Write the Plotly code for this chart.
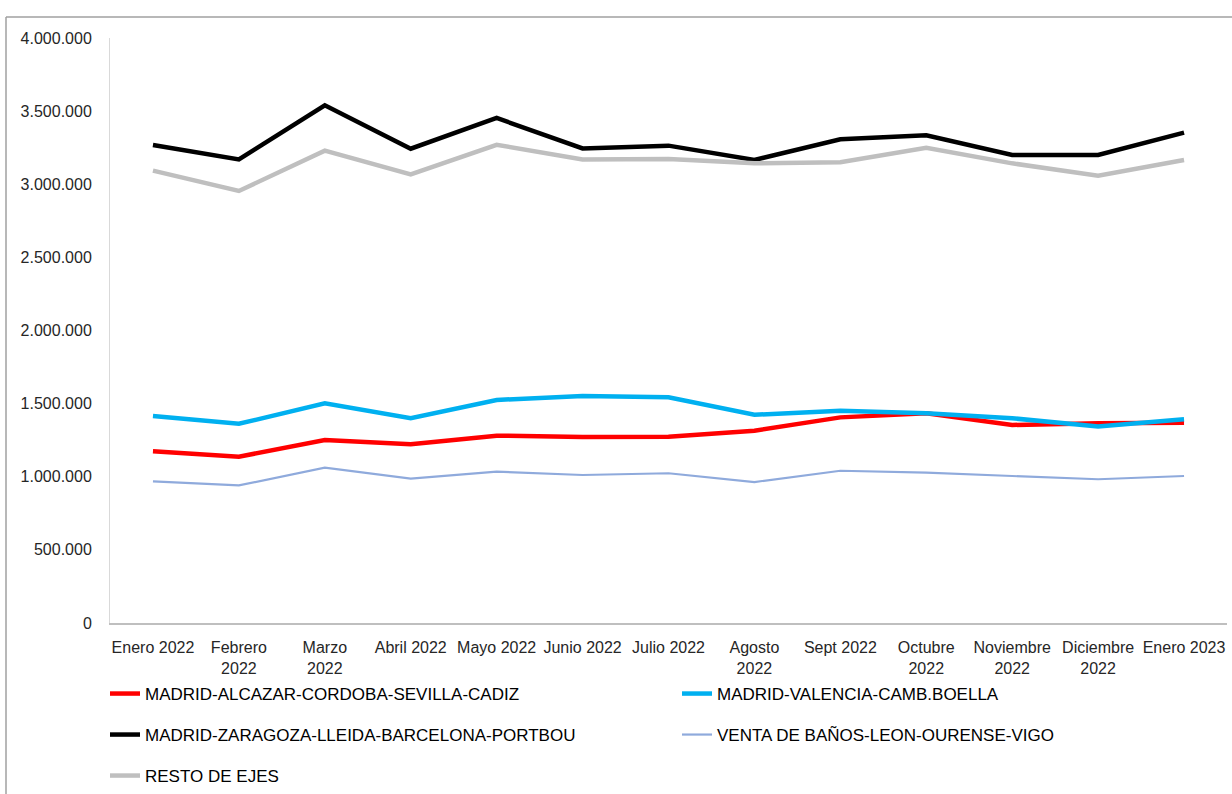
import plotly.graph_objects as go

categories = ["Enero 2022", "Febrero<br>2022", "Marzo<br>2022", "Abril 2022", "Mayo 2022",
              "Junio 2022", "Julio 2022", "Agosto<br>2022", "Sept 2022", "Octubre<br>2022",
              "Noviembre<br>2022", "Diciembre<br>2022", "Enero 2023"]

madrid_cadiz = [1174000, 1137000, 1251000, 1222000, 1281000, 1272000, 1274000,
                1315000, 1406000, 1434000, 1354000, 1366000, 1370000]
madrid_valencia = [1415000, 1362000, 1502000, 1400000, 1525000, 1552000, 1543000,
                   1424000, 1452000, 1434000, 1400000, 1343000, 1393000]
madrid_barcelona = [3268000, 3170000, 3540000, 3243000, 3453000, 3245000, 3264000,
                    3166000, 3307000, 3335000, 3200000, 3200000, 3353000]
venta_vigo = [969000, 941000, 1062000, 987000, 1035000, 1012000, 1024000,
              964000, 1041000, 1028000, 1005000, 983000, 1005000]
resto = [3093000, 2954000, 3230000, 3068000, 3270000, 3170000, 3173000,
         3143000, 3150000, 3250000, 3143000, 3059000, 3166000]

series_names = ["MADRID-ALCAZAR-CORDOBA-SEVILLA-CADIZ", "MADRID-VALENCIA-CAMB.BOELLA",
                "MADRID-ZARAGOZA-LLEIDA-BARCELONA-PORTBOU", "VENTA DE BAÑOS-LEON-OURENSE-VIGO",
                "RESTO DE EJES"]

y_tickvals = [0, 500000, 1000000, 1500000, 2000000, 2500000, 3000000, 3500000, 4000000]
y_ticktext = ["0", "500.000", "1.000.000", "1.500.000", "2.000.000", "2.500.000",
              "3.000.000", "3.500.000", "4.000.000"]

FONT = "Liberation Sans, Arial, sans-serif"

series = [madrid_cadiz, madrid_valencia, madrid_barcelona, venta_vigo, resto]
colors = ["#FF0000", "#00B0F0", "#000000", "#8FAADC", "#BFBFBF"]
widths = [4.5, 4.5, 4.5, 2.2, 4.5]
legends = ["legend", "legend2", "legend3", "legend4", "legend5"]

fig = go.Figure()
xs = list(range(len(categories)))
for vals, name, col, w, lg in zip(series, series_names, colors, widths, legends):
    fig.add_trace(go.Scatter(x=xs, y=vals, mode="lines", name=name,
                             line=dict(color=col, width=w), legend=lg))

W, H = 1232, 794
L, R, T, B = 110, 5, 38, 171
pw, ph = W - L - R, H - T - B

def px_to_paper(px, py):
    return (px - L) / pw, (H - B - py) / ph

legend_pos = [(105, 694), (677, 694), (105, 735), (677, 735), (105, 776)]
leg_layout = {}
for lg, (px, py) in zip(legends, legend_pos):
    lx, ly = px_to_paper(px, py)
    leg_layout[lg] = dict(x=lx, y=ly, xanchor="left", yanchor="middle",
                          bgcolor="rgba(0,0,0,0)", borderwidth=0,
                          font=dict(family=FONT, size=17, color="#000000"),
                          itemwidth=30)

fig.update_layout(
    width=W, height=H,
    margin=dict(l=L, r=R, t=T, b=B, autoexpand=False),
    plot_bgcolor="white", paper_bgcolor="white",
    showlegend=True,
    font=dict(family=FONT, size=16, color="#262626"),
    **leg_layout,
)

fig.update_xaxes(
    tickmode="array", tickvals=xs, ticktext=categories,
    range=[-0.5, len(categories) - 0.5],
    showgrid=False, zeroline=False,
    showline=True, linecolor="#BFBFBF", linewidth=1.5,
    ticks="", ticklabelstandoff=9,
    tickfont=dict(family=FONT, size=16, color="#262626"),
    tickangle=0, automargin=False,
)
fig.update_yaxes(
    tickmode="array", tickvals=y_tickvals, ticktext=y_ticktext,
    range=[0, 4000000],
    showgrid=False, zeroline=False,
    showline=True, linecolor="#D9D9D9", linewidth=1,
    ticks="", ticklabelstandoff=14, automargin=False,
    tickfont=dict(family=FONT, size=16, color="#262626"),
)

# outer chart-area border (top and left edges visible in the reference)
x0, y0 = px_to_paper(6, 17)
x1, _ = px_to_paper(1232, 17)
_, yb = px_to_paper(6, 800)
fig.add_shape(type="line", xref="paper", yref="paper", x0=x0, y0=y0, x1=x1, y1=y0,
              line=dict(color="#A0A0A0", width=1.5))
fig.add_shape(type="line", xref="paper", yref="paper", x0=x0, y0=y0, x1=x0, y1=yb,
              line=dict(color="#A0A0A0", width=1.5))

fig.write_html("out.html", config={"displayModeBar": False},
               post_script="document.body.style.margin='0';document.body.style.padding='0';")
